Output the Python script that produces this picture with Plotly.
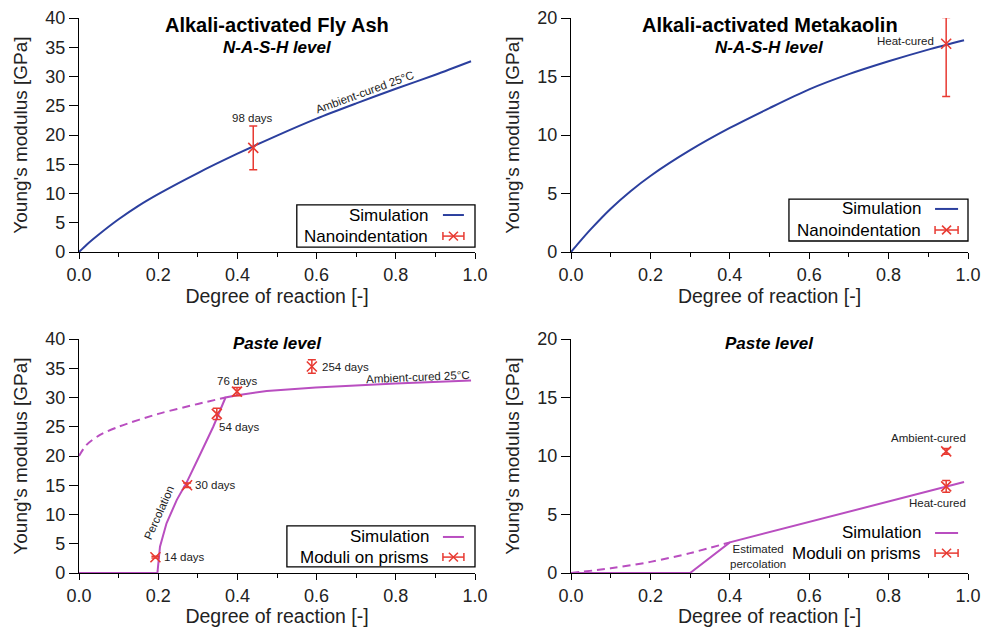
import plotly.graph_objects as go

# ---------------- data ----------------
# Panel 1: Alkali-activated Fly Ash, N-A-S-H level
fa_nash_sim_x = [0, 0.02, 0.05, 0.1, 0.15, 0.2, 0.3, 0.4, 0.5, 0.6, 0.7, 0.8, 0.9, 0.99]
fa_nash_sim_y = [0, 1.3, 3.0, 5.6, 7.9, 9.9, 13.5, 16.8, 19.9, 22.8, 25.4, 27.9, 30.3, 32.6]
fa_nano_x = [0.44]
fa_nano_y = [17.8]
fa_nano_err_plus = [3.75]
fa_nano_err_minus = [3.75]

# Panel 2: Alkali-activated Metakaolin, N-A-S-H level
mk_nash_sim_x = [0, 0.02, 0.05, 0.1, 0.15, 0.2, 0.3, 0.4, 0.5, 0.6, 0.7, 0.8, 0.9, 0.99]
mk_nash_sim_y = [0, 0.8, 1.95, 3.7, 5.2, 6.5, 8.7, 10.6, 12.3, 13.9, 15.2, 16.3, 17.3, 18.1]
mk_nano_x = [0.945]
mk_nano_y = [17.8]
mk_nano_err_plus = [2.25]
mk_nano_err_minus = [4.5]

# Panel 3: Fly Ash, paste level
fa_paste_sim_x = [0, 0.198, 0.2045, 0.221, 0.247, 0.272, 0.306, 0.339, 0.37, 0.4, 0.474, 0.598, 0.799, 0.99]
fa_paste_sim_y = [0, 0, 4.5, 8.5, 12.5, 15.5, 20.3, 25.0, 30.0, 30.4, 31.1, 31.7, 32.4, 32.9]
fa_paste_dash_x = [0, 0.019, 0.053, 0.1, 0.2, 0.3, 0.37]
fa_paste_dash_y = [20.0, 21.9, 23.6, 25.0, 27.2, 28.9, 30.0]
fa_prism_x = [0.193, 0.273, 0.348, 0.399, 0.588]
fa_prism_y = [2.7, 15.0, 27.2, 31.0, 35.3]
fa_prism_err = [0.15, 0.4, 0.95, 0.7, 1.15]
fa_prism_labels = ["14 days", "30 days", "54 days", "76 days", "254 days"]

# Panel 4: Metakaolin, paste level
mk_paste_sim_x = [0, 0.3, 0.4, 0.99]
mk_paste_sim_y = [0, 0, 2.62, 7.77]
mk_paste_dash_x = [0, 0.1, 0.2, 0.3, 0.4]
mk_paste_dash_y = [0, 0.4, 0.95, 1.7, 2.62]
mk_prism_x = [0.945, 0.945]
mk_prism_y = [10.4, 7.4]
mk_prism_err = [0.25, 0.5]
mk_prism_labels = ["Ambient-cured", "Heat-cured"]

x_ticks = [0, 0.2, 0.4, 0.6, 0.8, 1.0]

# ---------------- styles ----------------
BLUE = "#2b3f9e"
MAG = "#b94ec0"
RED = "#e83a32"
TXT = "#222222"
FONT = "Liberation Sans, Arial, Helvetica, sans-serif"

W, H = 992, 627
xdom = {1: [79 / W, 475 / W], 2: [571 / W, 968 / W]}
ydom_top = [(627 - 252) / H, (627 - 18) / H]
ydom_bot = [(627 - 573) / H, (627 - 339) / H]

fig = go.Figure()

def line_trace(x, y, color, axis, dash="solid", shape="linear"):
    fig.add_trace(go.Scatter(x=x, y=y, mode="lines",
                             line=dict(color=color, width=2, dash=dash, shape=shape, smoothing=0.8),
                             xaxis="x" + axis, yaxis="y" + axis, showlegend=False,
                             cliponaxis=False, hoverinfo="skip"))

def point_trace(x, y, ep, em, axis):
    fig.add_trace(go.Scatter(x=x, y=y, mode="markers",
                             marker=dict(symbol="x-thin", size=10, line=dict(color=RED, width=1.6), color=RED),
                             error_y=dict(type="data", symmetric=False, array=ep, arrayminus=em,
                                          color=RED, thickness=1.5, width=4),
                             xaxis="x" + axis, yaxis="y" + axis, showlegend=False,
                             cliponaxis=False))

line_trace(fa_nash_sim_x, fa_nash_sim_y, BLUE, "", shape="spline")
point_trace(fa_nano_x, fa_nano_y, fa_nano_err_plus, fa_nano_err_minus, "")

line_trace(mk_nash_sim_x, mk_nash_sim_y, BLUE, "2", shape="spline")
point_trace(mk_nano_x, mk_nano_y, mk_nano_err_plus, mk_nano_err_minus, "2")

line_trace(fa_paste_dash_x, fa_paste_dash_y, MAG, "3", dash="8px,5px", shape="spline")
line_trace(fa_paste_sim_x, fa_paste_sim_y, MAG, "3")
point_trace(fa_prism_x, fa_prism_y, fa_prism_err, fa_prism_err, "3")

line_trace(mk_paste_dash_x, mk_paste_dash_y, MAG, "4", dash="8px,5px", shape="spline")
line_trace(mk_paste_sim_x, mk_paste_sim_y, MAG, "4")
point_trace(mk_prism_x, mk_prism_y, mk_prism_err, mk_prism_err, "4")

def xaxis(dom, anchor):
    return dict(domain=dom, anchor=anchor, range=[0, 1], tickvals=x_ticks, tickformat=".1f",
                ticks="outside", ticklen=6, tickwidth=1.2, tickcolor="black", automargin=False,
                minor=dict(dtick=0.1, tick0=0, ticks="outside", ticklen=4, tickwidth=1.2, tickcolor="black"),
                showline=True, linecolor="black", linewidth=1.3, showgrid=False, zeroline=False,
                tickfont=dict(family=FONT, size=18, color=TXT),
                title=dict(text="Degree of reaction [-]", font=dict(family=FONT, size=19.5, color=TXT), standoff=4))

def yaxis(dom, anchor, ymax):
    return dict(domain=dom, anchor=anchor, range=[0, ymax], dtick=5, automargin=False,
                ticks="outside", ticklen=9, tickwidth=1.2, tickcolor="black",
                showline=True, linecolor="black", linewidth=1.3, showgrid=False, zeroline=False,
                tickfont=dict(family=FONT, size=18, color=TXT),
                title=dict(text="Young's modulus [GPa]", font=dict(family=FONT, size=19, color=TXT), standoff=12))

fig.update_layout(
    width=W, height=H, margin=dict(l=0, r=0, t=0, b=0, autoexpand=False),
    paper_bgcolor="white", plot_bgcolor="white", showlegend=False,
    font=dict(family=FONT, color=TXT),
    xaxis=xaxis(xdom[1], "y"), yaxis=yaxis(ydom_top, "x", 40),
    xaxis2=xaxis(xdom[2], "y2"), yaxis2=yaxis(ydom_top, "x2", 20),
    xaxis3=xaxis(xdom[1], "y3"), yaxis3=yaxis(ydom_bot, "x3", 40),
    xaxis4=xaxis(xdom[2], "y4"), yaxis4=yaxis(ydom_bot, "x4", 20),
)

ann = []
def dom_text(axis, x, y, text, size, **kw):
    ann.append(dict(xref=f"x{axis} domain", yref=f"y{axis} domain", x=x, y=y, text=text,
                    showarrow=False, font=dict(family=FONT, size=size, color="black"), **kw))

def data_text(axis, x, y, text, size=11.5, xanchor="center", angle=0):
    ann.append(dict(xref=f"x{axis}", yref=f"y{axis}", x=x, y=y, text=text, showarrow=False,
                    xanchor=xanchor, yanchor="middle", textangle=angle,
                    font=dict(family=FONT, size=size, color=TXT)))

# titles
dom_text("", 0.5, 0.97, "<b>Alkali-activated Fly Ash</b>", 20, yanchor="middle")
dom_text("", 0.5, 0.876, "<b><i>N-A-S-H level</i></b>", 17, yanchor="middle")
dom_text("2", 0.5, 0.97, "<b>Alkali-activated Metakaolin</b>", 20, yanchor="middle")
dom_text("2", 0.5, 0.876, "<b><i>N-A-S-H level</i></b>", 17, yanchor="middle")
dom_text("3", 0.5, 0.979, "<b><i>Paste level</i></b>", 17, yanchor="middle")
dom_text("4", 0.5, 0.979, "<b><i>Paste level</i></b>", 17, yanchor="middle")

# in-plot labels
data_text("", 0.437, 22.9, "98 days")
data_text("", 0.722, 27.3, "Ambient-cured 25°C", angle=-20)
data_text("2", 0.919, 18.0, "Heat-cured", xanchor="right")
data_text("3", 0.21, 2.7, fa_prism_labels[0], xanchor="left")
data_text("3", 0.288, 15.0, fa_prism_labels[1], xanchor="left")
data_text("3", 0.349, 24.9, fa_prism_labels[2], xanchor="left")
data_text("3", 0.399, 32.9, fa_prism_labels[3])
data_text("3", 0.609, 35.2, fa_prism_labels[4], xanchor="left")
data_text("3", 0.992, 33.5, "Ambient-cured 25°C", xanchor="right", angle=-2.4)
data_text("3", 0.203, 10.4, "Percolation", angle=-66)
data_text("4", 1.0, 11.5, mk_prism_labels[0], xanchor="right")
data_text("4", 1.0, 6.0, mk_prism_labels[1], xanchor="right")
data_text("4", 0.471, 1.4, "Estimated<br>percolation", size=11.5)

# legends (text left of symbol, as in the original)
shapes = []
PW, PH = 396.0, 234.0
def legend(axis, box, text_x, rows, sym_x0, sym_x1, color, label2):
    xr, yr = f"x{axis} domain", f"y{axis} domain"
    if box is not None:
        shapes.append(dict(type="rect", xref=xr, yref=yr, x0=box[0], x1=box[1], y0=box[2], y1=box[3],
                           line=dict(color="black", width=1.3), fillcolor="white", layer="below"))
    dom_text(axis, text_x, rows[0], "Simulation", 17, xanchor="right", yanchor="middle")
    dom_text(axis, text_x, rows[1], label2, 17, xanchor="right", yanchor="middle")
    shapes.append(dict(type="line", xref=xr, yref=yr, x0=sym_x0, x1=sym_x1, y0=rows[0], y1=rows[0],
                       line=dict(color=color, width=2)))
    y = rows[1]
    cy = 4 / PH
    cx = 4.5 / PW
    xm = (sym_x0 + sym_x1) / 2
    shapes.append(dict(type="line", xref=xr, yref=yr, x0=sym_x0, x1=sym_x1, y0=y, y1=y,
                       line=dict(color=RED, width=1.5)))
    for xx in (sym_x0, sym_x1):
        shapes.append(dict(type="line", xref=xr, yref=yr, x0=xx, x1=xx, y0=y - cy, y1=y + cy,
                           line=dict(color=RED, width=1.5)))
    shapes.append(dict(type="line", xref=xr, yref=yr, x0=xm - cx, x1=xm + cx, y0=y - cy * 1.1, y1=y + cy * 1.1,
                       line=dict(color=RED, width=1.5)))
    shapes.append(dict(type="line", xref=xr, yref=yr, x0=xm - cx, x1=xm + cx, y0=y + cy * 1.1, y1=y - cy * 1.1,
                       line=dict(color=RED, width=1.5)))

legend("", [0.55, 1.0, 0.021, 0.201], 0.886, [0.158, 0.068], 0.919, 0.972, BLUE, "Nanoindentation")
legend("2", [0.549, 1.0, 0.047, 0.226], 0.887, [0.184, 0.094], 0.917, 0.975, BLUE, "Nanoindentation")
legend("3", [0.525, 1.0, 0.026, 0.201], 0.889, [0.154, 0.068], 0.919, 0.972, MAG, "Moduli on prisms")
legend("4", None, 0.887, [0.171, 0.085], 0.917, 0.975, MAG, "Moduli on prisms")

fig.update_layout(annotations=ann, shapes=shapes)
fig.write_html("out.html", config={"displayModeBar": False},
               post_script="document.body.style.margin='0px';document.body.style.overflow='hidden';")
